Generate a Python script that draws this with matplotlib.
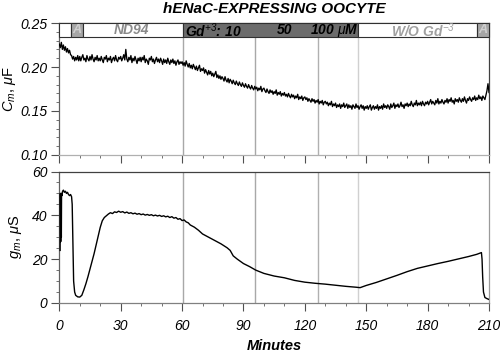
import matplotlib
matplotlib.use("Agg")
import matplotlib.pyplot as plt
from matplotlib.patches import Rectangle
from matplotlib.ticker import MultipleLocator

plt.rcParams['font.family'] = ['Liberation Sans', 'DejaVu Sans']
plt.rcParams['mathtext.fontset'] = 'custom'
plt.rcParams['mathtext.rm'] = 'Liberation Sans:italic'
plt.rcParams['mathtext.it'] = 'Liberation Sans:italic'
plt.rcParams['mathtext.bf'] = 'Liberation Sans:bold:italic'

# ---- data ----
cm_values = [
    0.226, 0.222, 0.228, 0.220, 0.225, 0.219, 0.223, 0.217, 0.221, 0.216, 0.219, 0.214, 0.213, 0.209, 0.212, 0.207, 0.211, 0.208, 0.213, 0.207,
    0.212, 0.207, 0.211, 0.214, 0.208, 0.210, 0.206, 0.213, 0.209, 0.207, 0.212, 0.208, 0.214, 0.209, 0.206, 0.211, 0.208, 0.213, 0.207, 0.210,
    0.207, 0.212, 0.208, 0.205, 0.211, 0.209, 0.213, 0.206, 0.210, 0.208, 0.212, 0.205, 0.209, 0.211, 0.207, 0.213, 0.208, 0.206, 0.211, 0.209,
    0.212, 0.207, 0.210, 0.214, 0.208, 0.220, 0.209, 0.206, 0.211, 0.208, 0.213, 0.205, 0.210, 0.207, 0.212, 0.208, 0.204, 0.210, 0.207, 0.211,
    0.206, 0.211, 0.208, 0.213, 0.205, 0.209, 0.207, 0.203, 0.210, 0.208, 0.212, 0.206, 0.209, 0.204, 0.208, 0.211, 0.206, 0.209, 0.205, 0.210,
    0.207, 0.203, 0.209, 0.205, 0.208, 0.204, 0.210, 0.206, 0.203, 0.208, 0.205, 0.209, 0.204, 0.207, 0.202, 0.206, 0.208, 0.203, 0.206, 0.204,
    0.206, 0.202, 0.205, 0.201, 0.207, 0.203, 0.200, 0.204, 0.199, 0.202, 0.198, 0.203, 0.200, 0.197, 0.201, 0.196, 0.199, 0.202, 0.195, 0.198,
    0.196, 0.199, 0.193, 0.197, 0.194, 0.191, 0.196, 0.192, 0.195, 0.190, 0.193, 0.189, 0.192, 0.195, 0.188, 0.191, 0.187, 0.190, 0.186, 0.189,
    0.187, 0.184, 0.189, 0.185, 0.183, 0.187, 0.182, 0.186, 0.184, 0.181, 0.185, 0.182, 0.180, 0.184, 0.181, 0.179, 0.183, 0.180, 0.178, 0.182,
    0.179, 0.177, 0.181, 0.178, 0.176, 0.180, 0.177, 0.175, 0.179, 0.176, 0.174, 0.178, 0.175, 0.177, 0.173, 0.176, 0.174, 0.178, 0.172, 0.175,
    0.176, 0.173, 0.171, 0.175, 0.172, 0.170, 0.174, 0.171, 0.173, 0.169, 0.172, 0.170, 0.174, 0.168, 0.171, 0.169, 0.172, 0.167, 0.170, 0.168,
    0.171, 0.167, 0.169, 0.166, 0.170, 0.167, 0.165, 0.169, 0.166, 0.168, 0.164, 0.167, 0.165, 0.169, 0.163, 0.166, 0.164, 0.167, 0.162, 0.165,
    0.166, 0.163, 0.165, 0.161, 0.164, 0.162, 0.160, 0.164, 0.161, 0.163, 0.159, 0.162, 0.160, 0.163, 0.158, 0.161, 0.159, 0.162, 0.157, 0.160,
    0.161, 0.158, 0.160, 0.156, 0.159, 0.157, 0.161, 0.155, 0.158, 0.156, 0.159, 0.154, 0.157, 0.155, 0.158, 0.153, 0.157, 0.155, 0.159, 0.154,
    0.156, 0.158, 0.153, 0.157, 0.154, 0.156, 0.152, 0.157, 0.155, 0.153, 0.158, 0.154, 0.156, 0.152, 0.155, 0.157, 0.153, 0.156, 0.151, 0.155,
    0.153, 0.156, 0.152, 0.155, 0.157, 0.151, 0.154, 0.156, 0.152, 0.155, 0.153, 0.157, 0.151, 0.155, 0.153, 0.156, 0.152, 0.158, 0.154, 0.156,
    0.153, 0.157, 0.155, 0.152, 0.158, 0.154, 0.156, 0.159, 0.153, 0.157, 0.155, 0.158, 0.154, 0.156, 0.160, 0.155, 0.157, 0.153, 0.158, 0.156,
    0.159, 0.155, 0.158, 0.156, 0.161, 0.157, 0.155, 0.159, 0.157, 0.162, 0.156, 0.159, 0.157, 0.160, 0.156, 0.161, 0.158, 0.156, 0.160, 0.158,
    0.161, 0.157, 0.160, 0.163, 0.158, 0.161, 0.159, 0.157, 0.162, 0.159, 0.164, 0.158, 0.161, 0.159, 0.163, 0.160, 0.158, 0.162, 0.160, 0.164,
    0.159, 0.163, 0.161, 0.165, 0.160, 0.162, 0.158, 0.164, 0.161, 0.163, 0.160, 0.165, 0.162, 0.160, 0.164, 0.161, 0.166, 0.162, 0.159, 0.164,
    0.162, 0.166, 0.163, 0.161, 0.165, 0.163, 0.167, 0.162, 0.165, 0.163, 0.168, 0.164, 0.166, 0.162, 0.167, 0.165, 0.163, 0.168, 0.173, 0.181,
    0.171,
]
cm_minutes = [i * 0.5 for i in range(len(cm_values))]

gm_minutes = [
    0.4, 0.5, 0.7, 0.8, 1.0, 1.1, 1.3, 1.6, 2.0, 2.5, 3.0, 3.5, 4.0, 4.5,
    5.0, 5.5, 6.0, 6.3, 6.6, 7.0, 7.5, 8.0, 9.0, 10.0, 11.0, 12.0, 13.0,
    14.0, 15.0, 16.0, 17.0, 18.0, 19.0, 20.0, 21.0, 22.0, 23.0,
    24, 25, 26, 27, 28, 29, 30, 31, 32, 33, 34, 35, 36, 37, 38, 39, 40,
    41, 42, 43, 44, 45, 46, 47, 48, 49, 50, 51, 52, 53, 54, 55, 56, 57,
    58, 59, 60, 61, 62, 63, 64, 66, 68, 70, 73, 76, 79, 82, 83.5, 85,
    87, 90, 93, 96, 100, 105, 110, 115, 120, 125, 130, 135, 140, 145,
    147, 150, 155, 160, 165, 170, 175, 180, 185, 190, 195, 200, 204,
    206.3, 206.6, 206.9, 207.3, 208, 209, 210,
]
gm_values = [
    24, 50, 28, 50, 30, 50, 49, 51, 51.5, 50.5, 51, 50, 50.5, 49.5,
    49, 49.5, 48.5, 45, 30, 10, 5, 3.5, 2.8, 2.7, 3.5, 6.0, 8.8,
    12.0, 15.5, 19.0, 22.5, 26.5, 30.5, 34.5, 37.5, 39, 39.8,
    40.6, 41.2, 40.8, 41.6, 41.3, 41.9, 41.4, 41.7, 41.1, 41.5, 40.9,
    41.2, 40.7, 41.0, 40.5, 40.8, 40.3, 40.6, 40.1, 40.4, 40.0, 40.3,
    39.8, 40.1, 39.7, 40.0, 39.5, 39.8, 39.3, 39.6, 39.0, 39.4, 38.7,
    39.0, 38.2, 38.5, 37.6, 37.9, 37.0, 36.6, 35.6, 34.6, 33.2, 31.5,
    30.0, 28.5, 27.0, 25.2, 24.0, 21.5, 20.0, 18.0, 16.6, 15.0, 13.5,
    12.3, 11.5, 10.3, 9.5, 9.0, 8.6, 8.1, 7.6, 7.2, 7.0, 8.0, 9.4, 11.0,
    12.6, 14.3, 15.8, 16.9, 18.0, 19.0, 20.1, 21.2, 22.2, 23.0, 20.0,
    12.0, 5.0, 2.5, 2.0, 1.6,
]

event_minutes = [60.6, 95.7, 126.6, 146.1]
event_colors = ['#a8a8a8', '#a8a8a8', '#b0b0b0', '#d0d0d0']

band_edges = [0, 5.7, 11.4, 60.6, 146.1, 204, 210]
band_fill = ['white', '#a6a6a6', 'white', '#6c6c6c', 'white', '#a6a6a6']

band_labels = ['A', 'ND94', r'Gd$^{+3}$: 10', '50', r'100 $\mu$M', r'W/O Gd$^{-3}$', 'A']
band_label_x = [8.55, 35.5, 61.5, 110.3, 134.5, 177.8, 207.0]
band_label_ha = ['center', 'center', 'left', 'center', 'center', 'center', 'center']
band_label_color = ['#d0d0d0', '#8a8a8a', 'black', 'black', 'black', '#a0a0a0', '#d0d0d0']
band_label_size = [9, 10, 10, 10, 10, 10, 9]

x_ticks = [0, 30, 60, 90, 120, 150, 180, 210]

# ---- figure ----
fig = plt.figure(figsize=(5, 3.55), dpi=100)
ax1 = fig.add_axes([0.1186, 0.5634, 0.8594, 0.3718])
ax2 = fig.add_axes([0.1186, 0.1465, 0.8594, 0.3704])

dark = '#404040'
light = '#9a9a9a'

band_bottom = 0.2342

# top panel
ax1.plot(cm_minutes, cm_values, color='black', lw=0.95, zorder=3)
for t, c in zip(event_minutes, event_colors):
    ax1.plot([t, t], [0.10, band_bottom], color=c, lw=1.0, zorder=1)
    ax2.plot([t, t], [0, 60], color=c, lw=1.0, zorder=1)

for i in range(len(band_fill)):
    ax1.add_patch(Rectangle((band_edges[i], band_bottom),
                            band_edges[i + 1] - band_edges[i], 0.25 - band_bottom,
                            facecolor=band_fill[i], edgecolor='#303030', lw=0.8,
                            zorder=4, clip_on=False))
for lab, x, ha, c, fs in zip(band_labels, band_label_x, band_label_ha,
                             band_label_color, band_label_size):
    ax1.text(x, (0.25 + band_bottom) / 2 - 0.0003, lab, ha=ha, va='center', color=c,
             fontsize=fs, fontweight='bold', fontstyle='italic', zorder=5)

ax1.set_xlim(0, 210)
ax1.set_ylim(0.10, 0.25)
ax1.yaxis.set_minor_locator(MultipleLocator(0.01))
ax1.set_xticks(x_ticks)
ax1.xaxis.set_minor_locator(MultipleLocator(10))
ax1.set_xticklabels([])
ax1.set_yticks([0.10, 0.15, 0.20, 0.25])
ax1.set_yticklabels(['0.10', '0.15', '0.20', '0.25'])
ax1.spines['top'].set_color(dark)
ax1.spines['right'].set_color(dark)
ax1.spines['left'].set_color('#606060')
ax1.spines['bottom'].set_color('#b0b0b0')
ax1.set_ylabel(r'$C_{m}$, $\mu$F', fontsize=10.5, labelpad=2)

# bottom panel
ax2.plot(gm_minutes, gm_values, color='black', lw=1.0, zorder=3)
ax2.set_xlim(0, 210)
ax2.set_ylim(0, 60)
ax2.set_xticks(x_ticks)
ax2.set_xticklabels([str(v) for v in x_ticks])
ax2.xaxis.set_minor_locator(MultipleLocator(10))
ax2.set_yticks([0, 20, 40, 60])
ax2.yaxis.set_minor_locator(MultipleLocator(5))
ax2.spines['top'].set_color(dark)
ax2.spines['right'].set_color(light)
ax2.spines['left'].set_color('#606060')
ax2.spines['bottom'].set_color('#808080')
ax2.set_ylabel(r'$g_{m}$, $\mu$S', fontsize=10.5, labelpad=6)
ax2.set_xlabel('Minutes', fontsize=10.5, fontweight='bold', fontstyle='italic', labelpad=4)

for ax in (ax1, ax2):
    for sp in ax.spines.values():
        sp.set_linewidth(0.9)
    ax.tick_params(axis='both', which='major', direction='out', length=5.5, width=0.8,
                   color='#505050', labelsize=10, pad=3)
    ax.tick_params(axis='both', which='minor', direction='out', length=2.5, width=0.7,
                   color='#707070')
    ax.tick_params(axis='x', which='major', pad=6)
    for lbl in ax.get_xticklabels() + ax.get_yticklabels():
        lbl.set_fontstyle('italic')
    ax.set_facecolor('white')

fig.text(0.548, 0.974, 'hENaC-EXPRESSING OOCYTE', ha='center', va='center',
         fontsize=11, fontweight='bold', fontstyle='italic')

fig.savefig('out.png', dpi=100)
